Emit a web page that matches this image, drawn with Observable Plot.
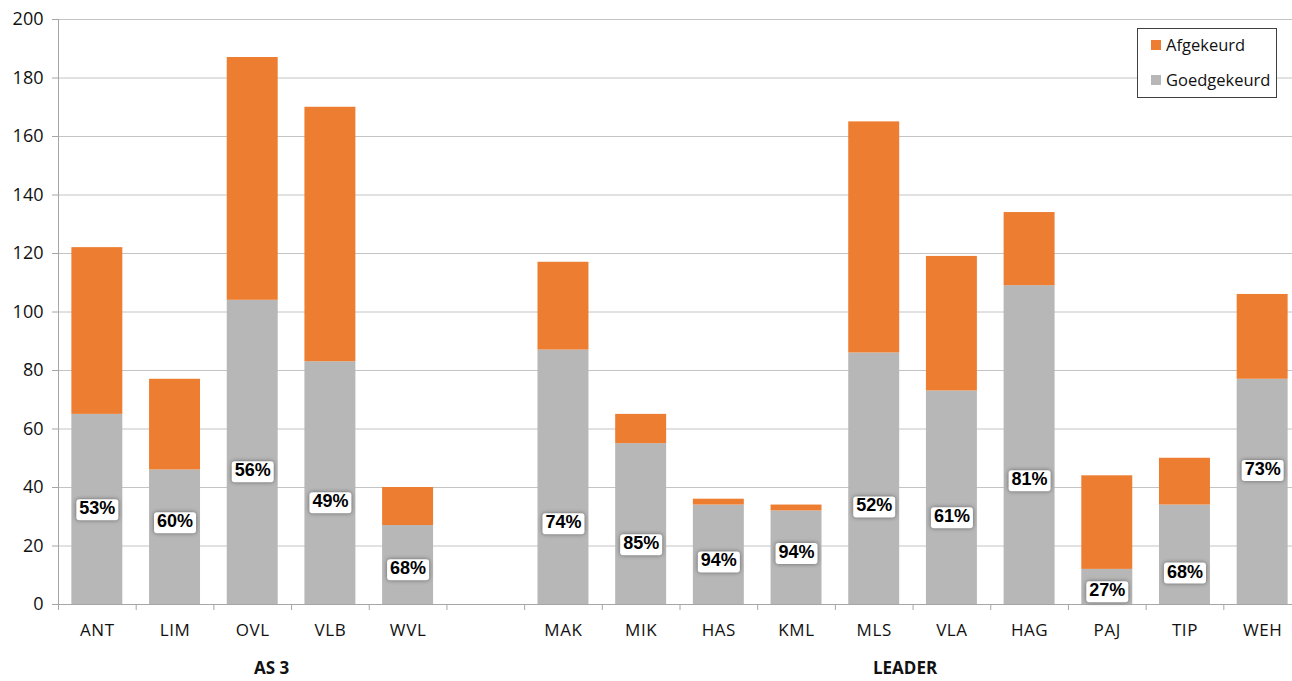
<!DOCTYPE html>
<html><head><meta charset="utf-8">
<script src="https://cdn.jsdelivr.net/npm/d3@7"></script>
<script src="https://cdn.jsdelivr.net/npm/@observablehq/plot@0.6"></script>
<style>
html,body{margin:0;padding:0;background:#fff;overflow:hidden;}
#wrap{position:relative;width:1292px;height:681px;overflow:hidden;}
#wrap svg{max-width:none !important;}
#legend{position:absolute;left:1137px;top:28px;width:140px;height:70px;border:1px solid #404040;background:#fff;box-sizing:border-box;font-family:"Open Sans",sans-serif;font-size:16.5px;color:#111;}
#legend .item{position:absolute;left:13px;display:flex;align-items:center;white-space:nowrap;}
#legend .sw{width:10px;height:10px;margin-right:5px;}
</style></head>
<body>
<div id="wrap"><div id="legend"></div></div>
<script>
// ---- data ----
const as3 = ["ANT","LIM","OVL","VLB","WVL"];
const leader = ["MAK","MIK","HAS","KML","MLS","VLA","HAG","PAJ","TIP","WEH"];
const categories = [...as3, ...leader];
const goedgekeurd = [65,46,104,83,27,87,55,34,32,86,73,109,12,34,77];
const afgekeurd   = [57,31,83,87,13,30,10,2,2,79,46,25,32,16,29];
const percentLabels = ["53%","60%","56%","49%","68%","74%","85%","94%","94%","52%","61%","81%","27%","68%","73%"];
const labelAt = [32.8,28.4,45.8,35.2,12.3,28.0,20.9,15.0,17.9,33.8,30.1,42.7,4.8,11.2,46.2];
const seriesNames = ["Goedgekeurd","Afgekeurd"];
const legendOrder = ["Afgekeurd","Goedgekeurd"];
const groupNames = ["AS 3","LEADER"];
const groupAnchor = ["OVL","MLS"];
const yTicks = [0,20,40,60,80,100,120,140,160,180,200];

// ---- build ----
const GAP = "\u2009gap";
const domain = [...as3, GAP, ...leader];
const colors = ["#b7b7b7","#ed7d31"];
const table = [];
categories.forEach((c,i)=>{
  table.push({cat:c, series:seriesNames[0], value:goedgekeurd[i]});
  table.push({cat:c, series:seriesNames[1], value:afgekeurd[i]});
});
const labels = categories.map((c,i)=>({cat:c, pct:percentLabels[i], at:labelAt[i]}));
const groups = groupNames.map((g,i)=>({name:g, cat:groupAnchor[i]}));

const W = 1301, H = 681, mL = 58, mT = 19, mB = 77;
const step = (W - mL) / domain.length;
const plotH = H - mT - mB;
const axisFont = "'Open Sans', sans-serif";

const chart = Plot.plot({
  width: W, height: H,
  marginLeft: mL, marginRight: 0, marginTop: mT, marginBottom: mB,
  x: {domain, paddingInner: 0.344, paddingOuter: 0.172, round: false, axis: null},
  y: {domain: [0,200], axis: null},
  color: {domain: seriesNames, range: colors},
  style: {fontFamily: axisFont, background: "white", maxWidth: "none"},
  marks: [
    Plot.gridY(yTicks, {stroke: "#c4c4c4", strokeOpacity: 1}),
    Plot.ruleX([domain[0]], {dx: -step/2, stroke: "#a6a6a6"}),
    Plot.axisY(yTicks, {tickSize: 6, tickPadding: 9, stroke: "#a6a6a6", fontSize: 18, fill: "#111", label: null, fontFamily: axisFont}),
    Plot.barY(table, {x: "cat", y: "value", fill: "series"}),
    Plot.ruleY([0], {stroke: "#a6a6a6"}),
    Plot.ruleX(domain, {x: d => d, dx: -step/2, insetTop: plotH, insetBottom: -6, stroke: "#a6a6a6"}),
    Plot.text(categories, {x: d => d, text: d => d, frameAnchor: "bottom", dy: 31, fontSize: 17, fill: "#111", className: "cat"}),
    Plot.text(groups, {x: "cat", text: "name", frameAnchor: "bottom", dy: 69, fontSize: 17, fontWeight: "bold", fill: "#111", className: "grp"}),
    Plot.text(labels, {x: "cat", y: "at", text: "pct", fontSize: 18, fontWeight: "bold", fill: "#000", fontFamily: "'Liberation Sans', Arial, sans-serif", className: "pct"})
  ]
});
chart.style.maxWidth = "none";
chart.style.width = W + "px";
chart.style.height = H + "px";
document.getElementById("wrap").prepend(chart);

d3.select(chart).selectAll("g.cat text").style("letter-spacing", "0.6px");

// shift group labels to sit under their group's centre
const grpShift = [19, step/2 - 8];
d3.select(chart).selectAll("g.grp text").each(function(d,i){
  if (this.hasAttribute("x")) this.setAttribute("x", (+this.getAttribute("x")) + grpShift[i]);
  else {
    const t = this.getAttribute("transform") || "";
    this.setAttribute("transform", t + ` translate(${grpShift[i]},0)`);
  }
});

// white rounded boxes behind percentage labels
d3.select(chart).selectAll("g.pct text").each(function(){
  const b = this.getBBox();
  const r = document.createElementNS("http://www.w3.org/2000/svg","rect");
  r.setAttribute("x", b.x - 3);
  r.setAttribute("y", b.y + 1);
  r.setAttribute("width", b.width + 6);
  r.setAttribute("height", b.height + 1);
  r.setAttribute("rx", 3);
  r.setAttribute("fill", "#fff");
  r.setAttribute("style", "filter: drop-shadow(0 0 2px rgba(0,0,0,0.45))");
  if (this.hasAttribute("transform")) r.setAttribute("transform", this.getAttribute("transform"));
  this.parentNode.insertBefore(r, this);
});

// legend
const lg = document.getElementById("legend");
legendOrder.forEach((name,i)=>{
  const it = document.createElement("div");
  it.className = "item";
  it.style.top = (i === 0 ? 4 : 39) + "px";
  const sw = document.createElement("div");
  sw.className = "sw";
  sw.style.background = colors[seriesNames.indexOf(name)];
  const tx = document.createElement("span");
  tx.textContent = name;
  it.append(sw, tx);
  lg.append(it);
});
</script>
</body></html>
